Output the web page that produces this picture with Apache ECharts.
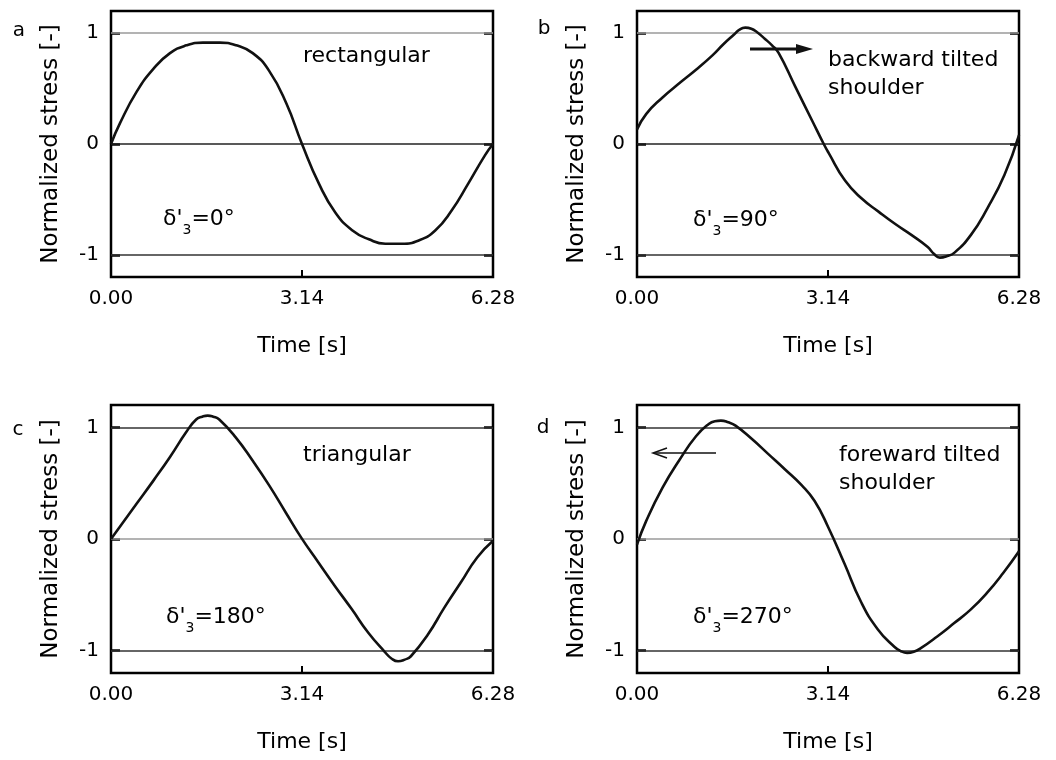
<!DOCTYPE html>
<html><head><meta charset="utf-8">
<script src="https://cdn.jsdelivr.net/npm/echarts@6/dist/echarts.min.js"></script>
<style>html,body{margin:0;padding:0;background:#fff}#c{width:1056px;height:760px}</style>
</head><body><div id="c"></div>
<script>
// ---- data ----
const xTickValues = [0, 3.14, 6.28];
const yTickValues = [-1, 0, 1];
const panelLetters = ['a', 'b', 'c', 'd'];
const shapeLabels = ['rectangular', 'backward tilted\nshoulder', 'triangular', 'foreward tilted\nshoulder'];
const phaseLabels = ['0°', '90°', '180°', '270°'];

const timeA   = [0, 0.15, 0.42, 0.70, 0.97, 1.24, 1.51, 1.79, 2.06, 2.33, 2.60, 2.88, 3.14, 3.42, 3.69, 3.97, 4.24, 4.51, 4.78, 5.06, 5.33, 5.60, 5.87, 6.15, 6.28];
const stressA = [0, 0.19, 0.47, 0.68, 0.82, 0.89, 0.915, 0.915, 0.89, 0.82, 0.66, 0.37, 0, -0.36, -0.62, -0.78, -0.86, -0.90, -0.90, -0.87, -0.78, -0.60, -0.36, -0.10, 0];

const timeB   = [0, 0.15, 0.42, 0.70, 0.97, 1.24, 1.42, 1.60, 1.68, 1.78, 1.88, 1.97, 2.10, 2.22, 2.33, 2.60, 2.88, 3.07, 3.15, 3.42, 3.69, 3.97, 4.24, 4.51, 4.78, 4.88, 4.98, 5.08, 5.22, 5.49, 5.76, 6.04, 6.28];
const stressB = [0.13, 0.27, 0.42, 0.55, 0.67, 0.80, 0.90, 0.99, 1.03, 1.05, 1.04, 1.01, 0.95, 0.89, 0.82, 0.52, 0.21, 0, -0.08, -0.33, -0.49, -0.61, -0.72, -0.82, -0.93, -0.99, -1.025, -1.015, -0.98, -0.82, -0.58, -0.28, 0.08];

const timeC   = [0, 0.42, 0.70, 0.97, 1.24, 1.40, 1.50, 1.59, 1.68, 1.78, 2.05, 2.33, 2.60, 2.87, 3.13, 3.41, 3.68, 3.96, 4.23, 4.50, 4.61, 4.72, 4.83, 4.93, 5.21, 5.48, 5.75, 6.02, 6.28];
const stressC = [0, 0.315, 0.525, 0.735, 0.96, 1.07, 1.095, 1.105, 1.095, 1.07, 0.91, 0.70, 0.48, 0.24, 0.01, -0.21, -0.42, -0.63, -0.84, -1.01, -1.07, -1.095, -1.08, -1.05, -0.855, -0.615, -0.39, -0.165, -0.015];

const timeD   = [0, 0.15, 0.42, 0.70, 0.97, 1.18, 1.28, 1.38, 1.50, 1.62, 1.89, 2.16, 2.43, 2.71, 2.92, 3.14, 3.41, 3.68, 3.96, 4.23, 4.34, 4.44, 4.55, 4.66, 4.93, 5.21, 5.48, 5.75, 6.02, 6.28];
const stressD = [-0.05, 0.16, 0.46, 0.71, 0.92, 1.03, 1.055, 1.06, 1.045, 1.015, 0.895, 0.76, 0.625, 0.48, 0.34, 0.11, -0.22, -0.56, -0.81, -0.965, -1.005, -1.02, -1.01, -0.98, -0.875, -0.755, -0.635, -0.485, -0.305, -0.11];

const times = [timeA, timeB, timeC, timeD];
const stresses = [stressA, stressB, stressC, stressD];

// ---- layout / style ----
const FONT = 'DejaVu Sans';
const grids = [
  {left: 111, top: 11, width: 382, height: 266},
  {left: 637, top: 11, width: 382, height: 266},
  {left: 111, top: 405, width: 382, height: 268},
  {left: 637, top: 405, width: 382, height: 268}
];
const gridLineColors = [
  {'1': '#9a9a9a', '0': '#222', '-1': '#333'},
  {'1': '#9a9a9a', '0': '#222', '-1': '#333'},
  {'1': '#333', '0': '#9a9a9a', '-1': '#333'},
  {'1': '#333', '0': '#9a9a9a', '-1': '#333'}
];

const option = {
  animation: false,
  backgroundColor: '#fff',
  grid: grids.map(g => Object.assign({show: true, borderColor: '#000', borderWidth: 2.5, backgroundColor: 'transparent', containLabel: false, outerBoundsMode: 'none'}, g)),
  xAxis: [], yAxis: [], series: [], graphic: []
};

for (let i = 0; i < 4; i++) {
  option.xAxis.push({
    type: 'value', gridIndex: i, min: 0, max: 6.28, interval: 3.14, position: 'bottom',
    axisLine: {show: false, onZero: false},
    axisTick: {show: true, inside: true, length: 7, customValues: [3.14], lineStyle: {color: '#000', width: 2}},
    axisLabel: {customValues: xTickValues, formatter: v => v.toFixed(2), margin: 12, fontSize: 20, fontFamily: FONT, color: '#000'},
    splitLine: {show: false},
    name: 'Time [s]', nameLocation: 'middle', nameGap: 58,
    nameTextStyle: {fontSize: 22, fontFamily: FONT, color: '#000'}
  });
  option.yAxis.push({
    type: 'value', gridIndex: i, min: -1.2, max: 1.2, position: 'left',
    axisLine: {show: false, onZero: false},
    axisTick: {show: true, inside: true, length: 9, customValues: yTickValues, lineStyle: {color: '#000', width: 2.5}},
    axisLabel: {customValues: yTickValues, formatter: v => String(v), margin: 12, fontSize: 20, fontFamily: FONT, color: '#000'},
    splitLine: {show: false},
    name: 'Normalized stress [-]', nameLocation: 'middle', nameGap: 48, nameRotate: 90,
    nameTextStyle: {fontSize: 23, fontFamily: FONT, color: '#000'}
  });
  option.yAxis.push({
    type: 'value', gridIndex: i, min: -1.2, max: 1.2, position: 'right',
    axisLine: {show: false, onZero: false},
    axisTick: {show: true, inside: true, length: 9, customValues: yTickValues, lineStyle: {color: '#000', width: 2.5}},
    axisLabel: {show: false},
    splitLine: {show: false}
  });
  const c = gridLineColors[i];
  option.series.push({
    type: 'line', xAxisIndex: i, yAxisIndex: i * 2,
    data: times[i].map((t, k) => [t, stresses[i][k]]),
    smooth: 0.5, showSymbol: false, symbol: 'none',
    lineStyle: {color: '#111', width: 2.6},
    z: 5,
    markLine: {
      silent: true, symbol: ['none', 'none'], label: {show: false},
      lineStyle: {type: 'solid', width: 1.5},
      data: yTickValues.map(v => ({yAxis: v, lineStyle: {color: c[String(v)], type: 'solid', width: 1.5}}))
    }
  });
}

// panel letters
const letterPos = [[19, 31], [544, 29], [18, 430], [543, 428]];
letterPos.forEach((p, i) => option.graphic.push({
  type: 'text', x: p[0], y: p[1], z: 10,
  style: {text: panelLetters[i], font: '20px "' + FONT + '"', fill: '#000', textAlign: 'center', textVerticalAlign: 'middle'}
}));

// shape annotations
const shapePos = [[303, 56], [828, 74], [303, 455], [839, 469]];
shapePos.forEach((p, i) => option.graphic.push({
  type: 'text', x: p[0], y: p[1], z: 10,
  style: {text: shapeLabels[i], font: '22px "' + FONT + '"', fill: '#000', textAlign: 'left', textVerticalAlign: 'middle', lineHeight: 28}
}));

// phase annotations
const phasePos = [[163, 219], [693, 220], [166, 617], [693, 617]];
phasePos.forEach((p, i) => option.graphic.push({
  type: 'text', x: p[0], y: p[1], z: 10,
  style: {
    text: "{m|δ'}{s|3}{m|=" + phaseLabels[i] + "}",
    textAlign: 'left', textVerticalAlign: 'middle',
    rich: {
      m: {fontSize: 22, fontFamily: FONT, color: '#000', lineHeight: 36, verticalAlign: 'middle'},
      s: {fontSize: 14, fontFamily: FONT, color: '#000', lineHeight: 14, verticalAlign: 'bottom'}
    }
  }
}));

// arrows
option.graphic.push(
  {type: 'line', z: 10, shape: {x1: 750, y1: 49, x2: 800, y2: 49}, style: {stroke: '#111', lineWidth: 3}},
  {type: 'polygon', z: 10, shape: {points: [[796, 44], [813, 49], [796, 54]]}, style: {fill: '#111'}},
  {type: 'line', z: 10, shape: {x1: 716, y1: 453, x2: 654, y2: 453}, style: {stroke: '#111', lineWidth: 1.5}},
  {type: 'polyline', z: 10, shape: {points: [[667, 448], [653, 453], [667, 458]]}, style: {stroke: '#111', lineWidth: 1.5, fill: null}}
);

const chart = echarts.init(document.getElementById('c'), null, {renderer: 'canvas'});
chart.setOption(option);
</script></body></html>
